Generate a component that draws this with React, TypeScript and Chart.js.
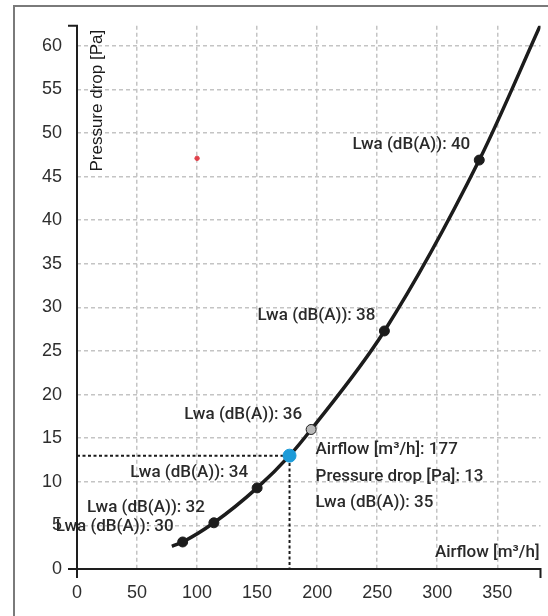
import React, { useEffect, useRef } from "react";
import { Chart, registerables } from "chart.js";

Chart.register(...registerables);

// ---- data ----
const curveAirflow = [79, 88, 114, 150, 177, 195, 256, 335, 386];
const curvePressure = [2.6, 3.1, 5.3, 9.3, 13, 16.0, 27.3, 46.9, 62.4];

const lwaAirflow = [88, 114, 150, 195, 256, 335];
const lwaPressure = [3.1, 5.3, 9.3, 16.0, 27.3, 46.9];
const lwaLevels = [30, 32, 34, 36, 38, 40];

const selAirflow = 177;
const selPressure = 13;
const selLwa = 35;

const markerAirflow = [100];
const markerPressure = [47.1];

const xTitle = "Airflow [m³/h]";
const yTitle = "Pressure drop [Pa]";
const xMax = 386;
const yMax = 62.3;

const LABEL_FONT = "Roboto, 'Liberation Sans', sans-serif";
const SANS = "'Liberation Sans', Arial, sans-serif";

const overlay = {
  id: "overlay",
  beforeDatasetsDraw(chart: any) {
    const ctx = chart.ctx;
    const a = chart.chartArea;
    ctx.save();
    // outer frame
    ctx.strokeStyle = "#7a7a7a";
    ctx.lineWidth = 2;
    ctx.beginPath();
    ctx.moveTo(14, 630);
    ctx.lineTo(14, 6);
    ctx.lineTo(570, 6);
    ctx.stroke();
    // axes
    ctx.strokeStyle = "#1e1e1e";
    ctx.lineWidth = 2;
    ctx.beginPath();
    ctx.moveTo(a.left - 9, a.top);
    ctx.lineTo(a.left, a.top);
    ctx.lineTo(a.left, a.bottom + 9);
    ctx.moveTo(a.left - 9, a.bottom);
    ctx.lineTo(a.right, a.bottom);
    ctx.lineTo(a.right, a.bottom + 9);
    ctx.stroke();
    ctx.restore();
  },
  afterDraw(chart: any) {
    const ctx = chart.ctx;
    const xs = chart.scales.x;
    const ys = chart.scales.y;
    const a = chart.chartArea;
    ctx.save();
    ctx.fillStyle = "#2a2a2a";
    ctx.font = `500 17px ${LABEL_FONT}`;
    ctx.textBaseline = "middle";
    ctx.textAlign = "right";
    lwaLevels.forEach((lv, i) => {
      const px = xs.getPixelForValue(lwaAirflow[i]);
      const py = ys.getPixelForValue(lwaPressure[i]);
      ctx.fillText(`Lwa (dB(A)): ${lv}`, px - 9, py - 15);
    });
    // selected point info
    const sx = xs.getPixelForValue(selAirflow);
    const sy = ys.getPixelForValue(selPressure);
    ctx.textAlign = "left";
    ctx.fillText(`Airflow [m³/h]: ${selAirflow}`, sx + 26, sy - 6);
    ctx.fillText(`Pressure drop [Pa]: ${selPressure}`, sx + 26, sy + 21);
    ctx.fillText(`Lwa (dB(A)): ${selLwa}`, sx + 26, sy + 47);
    // x title
    ctx.textAlign = "right";
    ctx.fillText(xTitle, a.right - 1, a.bottom - 16);
    // y title
    ctx.font = `17px ${SANS}`;
    ctx.fillStyle = "#1a1a1a";
    ctx.translate(a.left + 20, a.top + 4);
    ctx.rotate(-Math.PI / 2);
    ctx.textAlign = "right";
    ctx.textBaseline = "middle";
    ctx.fillText(yTitle, 0, 0);
    ctx.restore();
  },
};

export default function App() {
  const ref = useRef<HTMLCanvasElement | null>(null);
  useEffect(() => {
    document.body.style.margin = "0";
    const canvas = ref.current;
    if (!canvas) return;
    const gridColor = (c: any) =>
      c.tick && c.tick.value === 0 ? "rgba(0,0,0,0)" : "#c4c4c4";
    const chart = new Chart(canvas, {
      type: "line",
      data: {
        datasets: [
          {
            label: "guide",
            data: [
              { x: 0, y: selPressure },
              { x: selAirflow, y: selPressure },
              { x: selAirflow, y: 0 },
            ],
            borderColor: "#1a1a1a",
            borderWidth: 2,
            borderDash: [3, 2.5],
            pointRadius: 0,
            tension: 0,
            order: 5,
          },
          {
            label: "curve",
            data: curveAirflow.map((x, i) => ({ x, y: curvePressure[i] })),
            borderColor: "#1c1c1c",
            borderWidth: 3.5,
            pointRadius: 0,
            cubicInterpolationMode: "monotone",
            order: 4,
          },
          {
            label: "lwa",
            data: lwaAirflow.map((x, i) => ({ x, y: lwaPressure[i] })),
            showLine: false,
            pointRadius: 5,
            pointBackgroundColor: lwaLevels.map((l) => (l === 36 ? "#b9b9b9" : "#1c1c1c")),
            pointBorderColor: "#1c1c1c",
            pointBorderWidth: 1,
            order: 3,
          },
          {
            label: "selected",
            data: [{ x: selAirflow, y: selPressure }],
            showLine: false,
            pointRadius: 6.5,
            pointBackgroundColor: "#1d9bd8",
            pointBorderColor: "#1d9bd8",
            order: 2,
          },
          {
            label: "marker",
            data: markerAirflow.map((x, i) => ({ x, y: markerPressure[i] })),
            showLine: false,
            pointRadius: 2.2,
            pointBackgroundColor: "#e0404a",
            pointBorderColor: "#e0404a",
            order: 1,
          },
        ],
      },
      options: {
        responsive: false,
        animation: false,
        layout: { padding: { top: 24, right: 4, left: 0, bottom: 0 } },
        plugins: { legend: { display: false }, tooltip: { enabled: false } },
        scales: {
          x: {
            type: "linear",
            min: 0,
            max: xMax,
            border: { display: false, dash: [4, 3] },
            grid: {
              color: gridColor,
              lineWidth: 1.5,
              drawTicks: false,
            },
            ticks: {
              stepSize: 50,
              includeBounds: false,
              color: "#2e2e2e",
              font: { family: SANS, size: 18 },
              padding: 13,
              maxRotation: 0,
            } as any,
            afterFit: (s: any) => {
              s.height = 47;
            },
          },
          y: {
            type: "linear",
            min: 0,
            max: yMax,
            border: { display: false, dash: [4, 3] },
            grid: {
              color: gridColor,
              lineWidth: 1.5,
              drawTicks: false,
            },
            ticks: {
              stepSize: 5,
              includeBounds: false,
              color: "#2e2e2e",
              font: { family: SANS, size: 18 },
              padding: 15,
            } as any,
            afterFit: (s: any) => {
              s.width = 77;
            },
          },
        },
      },
      plugins: [overlay],
    } as any);
    return () => chart.destroy();
  }, []);
  return <canvas ref={ref} width={548} height={616} style={{ display: "block" }} />;
}
